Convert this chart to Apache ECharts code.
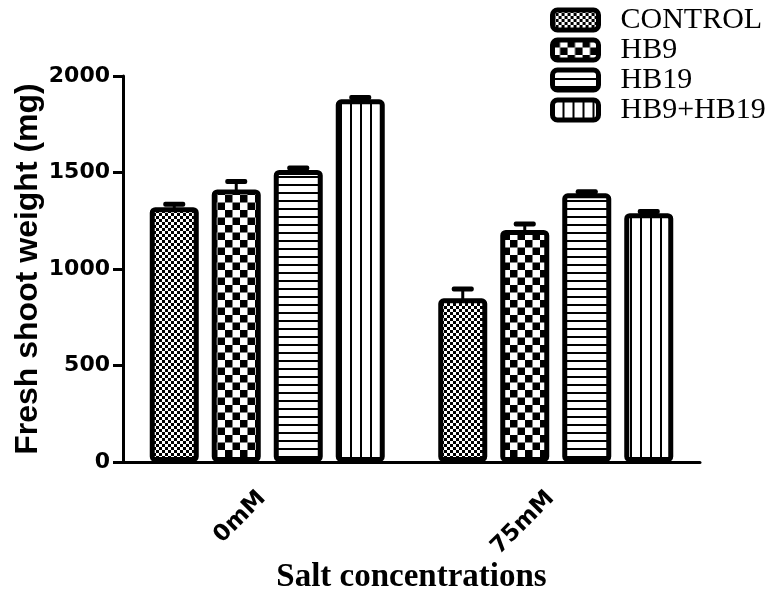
<!DOCTYPE html>
<html>
<head>
<meta charset="utf-8">
<script src="https://cdn.jsdelivr.net/npm/echarts@6/dist/echarts.min.js"></script>
<style>
html,body{margin:0;padding:0;background:#fff;}
#chart{width:781px;height:591px;}
</style>
</head>
<body>
<div id="chart"></div>
<script>
// ---- data ----
var categories = ['0mM', '75mM'];
var seriesNames = ['CONTROL', 'HB9', 'HB19', 'HB9+HB19'];
var controlValues = [1320, 848];
var hb9Values = [1412, 1202];
var hb19Values = [1513, 1392];
var hb9hb19Values = [1879, 1289];
var controlErr = [15, 48];
var hb9Err = [41, 31];
var hb19Err = [10, 8];
var hb9hb19Err = [10, 9];
var yTicks = [0, 500, 1000, 1500, 2000];

// ---- patterns ----
function makeCanvas(w, h, draw) {
  var c = document.createElement('canvas');
  c.width = w; c.height = h;
  var ctx = c.getContext('2d');
  ctx.fillStyle = '#fff'; ctx.fillRect(0, 0, w, h);
  ctx.fillStyle = '#000';
  draw(ctx);
  return { image: c, repeat: 'repeat' };
}
var patterns = [
  makeCanvas(6, 6, function (g) { g.fillRect(0, 0, 3, 3); g.fillRect(3, 3, 3, 3); }),
  makeCanvas(15, 15, function (g) { g.fillRect(0, 0, 7.5, 7.5); g.fillRect(7.5, 7.5, 7.5, 7.5); }),
  makeCanvas(8, 8, function (g) { g.fillRect(0, 0, 8, 2); }),
  makeCanvas(10, 4, function (g) { g.fillRect(0, 0, 2, 4); })
];

var allValues = [controlValues, hb9Values, hb19Values, hb9hb19Values];
var allErr = [controlErr, hb9Err, hb19Err, hb9hb19Err];

var barWidth = 49;
var barGapPx = 13;
function barOffset(i) {
  var total = 4 * barWidth + 3 * barGapPx;
  return -total / 2 + barWidth / 2 + i * (barWidth + barGapPx);
}

var series = [];
seriesNames.forEach(function (name, i) {
  series.push({
    name: name,
    type: 'bar',
    barWidth: barWidth,
    barGap: (barGapPx / barWidth * 100) + '%',
    data: allValues[i],
    itemStyle: {
      color: patterns[i],
      borderColor: '#000',
      borderWidth: 5,
      borderRadius: 3
    },
    emphasis: { disabled: true },
    z: 2
  });
});
seriesNames.forEach(function (name, i) {
  var d = categories.map(function (c, k) { return [k, allValues[i][k], allErr[i][k]]; });
  series.push({
    name: 'err_' + name,
    type: 'custom',
    data: d,
    encode: { x: 0, y: 1 },
    z: 1,
    renderItem: function (params, api) {
      var cat = api.value(0);
      var v = api.value(1);
      var e = api.value(2);
      var base = api.coord([cat, v]);
      var top = api.coord([cat, v + e]);
      var x = base[0] + barOffset(i);
      return {
        type: 'group',
        children: [
          { type: 'rect', shape: { x: x - 1.5, y: top[1], width: 3, height: base[1] - top[1] + 3 }, style: { fill: '#000' } },
          { type: 'rect', shape: { x: x - 11, y: top[1] - 2.5, width: 22, height: 5, r: 2 }, style: { fill: '#000' } }
        ]
      };
    }
  });
});

var chart = echarts.init(document.getElementById('chart'), null, { renderer: 'canvas' });
chart.setOption({
  animation: false,
  backgroundColor: '#fff',
  grid: { left: 123, right: 81, top: 76, bottom: 129, containLabel: false, outerBoundsMode: 'none' },
  legend: {
    data: seriesNames,
    orient: 'vertical',
    left: 545,
    top: 0,
    itemWidth: 46,
    itemHeight: 20,
    itemGap: 0,
    icon: 'roundRect',
    selectedMode: false,
    itemStyle: { borderWidth: 5, borderColor: '#000' },
    textStyle: {
      fontFamily: 'Liberation Serif',
      fontSize: 30,
      color: '#000',
      lineHeight: 30,
      padding: [0, 0, 0, 17]
    }
  },
  xAxis: {
    type: 'category',
    data: categories,
    name: 'Salt concentrations',
    nameLocation: 'middle',
    nameGap: 99,
    nameMoveOverlap: false,
    nameTextStyle: { fontFamily: 'Liberation Serif', fontWeight: 'bold', fontSize: 33, color: '#000' },
    axisLine: { lineStyle: { color: '#000', width: 3 } },
    axisTick: { alignWithLabel: true, length: 8, lineStyle: { color: '#000', width: 3 } },
    axisLabel: { rotate: 45, margin: 28, padding: [0, 7, 0, 0], fontFamily: 'DejaVu Sans', fontWeight: 'bold', fontSize: 23, color: '#000' },
    splitLine: { show: false }
  },
  yAxis: {
    type: 'value',
    min: yTicks[0],
    max: yTicks[yTicks.length - 1],
    interval: 500,
    name: 'Fresh shoot weight (mg)',
    nameLocation: 'middle',
    nameGap: 79,
    nameMoveOverlap: false,
    nameTextStyle: { fontFamily: 'Liberation Sans', fontWeight: 'bold', fontSize: 32, color: '#000' },
    axisLine: { show: true, lineStyle: { color: '#000', width: 3 } },
    axisTick: { show: true, length: 10, lineStyle: { color: '#000', width: 3 } },
    axisLabel: { margin: 13, fontFamily: 'DejaVu Sans', fontWeight: 'bold', fontSize: 22, color: '#000', formatter: function (v) { return String(v); } },
    splitLine: { show: false }
  },
  series: series
});
</script>
</body>
</html>
